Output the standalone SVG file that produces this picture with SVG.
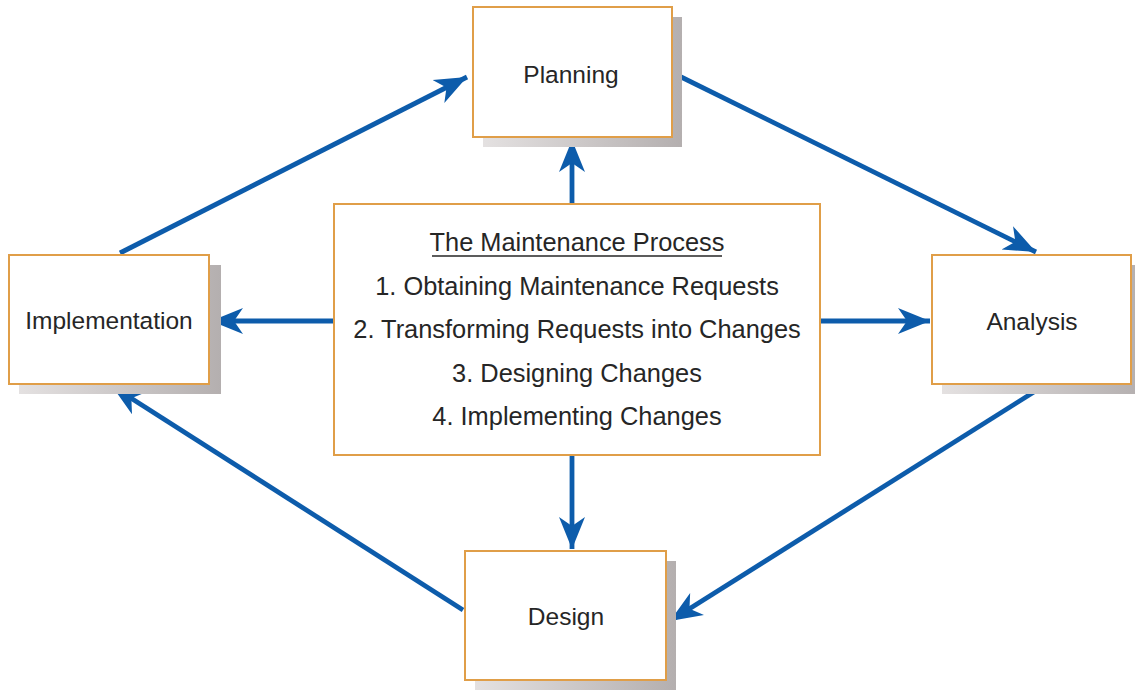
<svg xmlns="http://www.w3.org/2000/svg" width="1135" height="690" viewBox="0 0 1135 690">
<style>
.box{fill:#ffffff;stroke:#e09e48;stroke-width:2}
.shadow{fill:url(#sg)}
.lbl{font-family:"Liberation Sans",Arial,sans-serif;font-size:24.5px;fill:#262626;text-anchor:middle}
.big{font-size:25.4px}
.conn{stroke:#0d5cab;stroke-width:4.8;fill:none;marker-end:url(#ah)}
</style>
<defs>
<linearGradient id="sg" x1="0" y1="0" x2="1" y2="0">
<stop offset="0" stop-color="#e4e1e1"/>
<stop offset="1" stop-color="#b4afaf"/>
</linearGradient>
<marker id="ah" markerUnits="userSpaceOnUse" viewBox="-32 -14 34 28" refX="0" refY="0" markerWidth="34" markerHeight="28" orient="auto">
<path d="M0,0 L-32,-13 L-23,0 L-32,13 Z" fill="#0d5cab"/>
</marker>
</defs>
<rect width="1135" height="690" fill="#ffffff"/>
<g id="connectors">
<line class="conn" x1="120" y1="253" x2="467" y2="77"/>
<line class="conn" x1="673" y1="73" x2="1036" y2="252"/>
<line class="conn" x1="1045" y1="385" x2="670" y2="621"/>
<line class="conn" x1="463" y1="610" x2="112" y2="386"/>
<line class="conn" x1="572" y1="204" x2="572" y2="140"/>
<line class="conn" x1="334" y1="321" x2="211" y2="321"/>
<line class="conn" x1="820" y1="321" x2="930" y2="321"/>
<line class="conn" x1="572" y1="456" x2="572" y2="549"/>
</g>
<g id="planning">
<rect class="shadow" x="483" y="17" width="199" height="130"/>
<rect class="box" x="473" y="7" width="199" height="130"/>
<text class="lbl" x="571" y="83">Planning</text>
</g>
<g id="implementation">
<rect class="shadow" x="19" y="265" width="202" height="129"/>
<rect class="box" x="9" y="255" width="200" height="129"/>
<text class="lbl" x="109" y="329">Implementation</text>
</g>
<g id="analysis">
<rect class="shadow" x="942" y="265" width="199" height="129"/>
<rect class="box" x="932" y="255" width="199" height="129"/>
<text class="lbl" x="1032" y="330">Analysis</text>
</g>
<g id="design">
<rect class="shadow" x="475" y="561" width="201" height="129"/>
<rect class="box" x="465" y="551" width="201" height="129"/>
<text class="lbl" x="566" y="625">Design</text>
</g>
<g id="process">
<rect class="box" x="334" y="204" width="486" height="251"/>
<text class="lbl big" x="577" y="251">The Maintenance Process</text>
<line x1="432" y1="256" x2="722" y2="256" stroke="#262626" stroke-width="1.5"/>
<text class="lbl big" x="577" y="295">1. Obtaining Maintenance Requests</text>
<text class="lbl big" x="577" y="338">2. Transforming Requests into Changes</text>
<text class="lbl big" x="577" y="382">3. Designing Changes</text>
<text class="lbl big" x="577" y="425">4. Implementing Changes</text>
</g>
</svg>
